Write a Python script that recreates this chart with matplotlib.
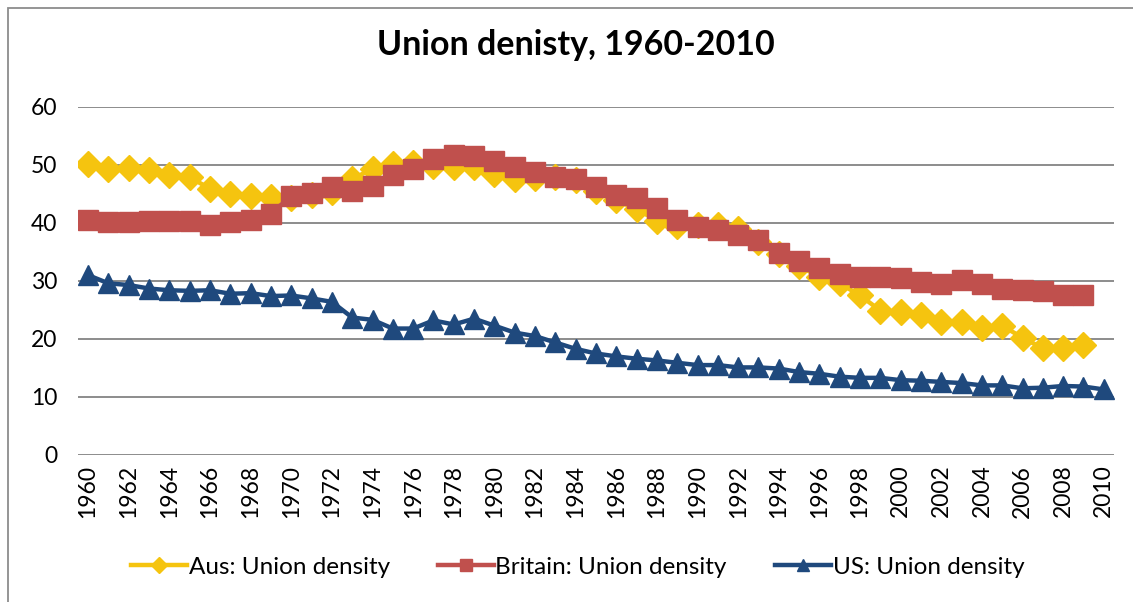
import matplotlib
matplotlib.use('Agg')
import matplotlib.pyplot as plt
from matplotlib.patches import Rectangle

plt.rcParams['font.family'] = ['Lato', 'DejaVu Sans']

years = list(range(1960, 2011))

aus = [50.1, 49.3, 49.5, 49.2, 48.2, 47.9, 45.9, 45.0, 44.7, 44.5,
       44.3, 44.8, 45.3, 47.6, 49.3, 50.1, 50.4, 49.9, 49.7, 49.7,
       48.5, 47.5, 47.7, 47.9, 47.4, 45.5, 43.9, 42.4, 40.4, 39.4,
       39.6, 39.7, 38.9, 36.7, 34.6, 32.6, 30.7, 29.6, 27.5, 24.9,
       24.6, 24.2, 22.9, 23.0, 21.9, 22.3, 20.2, 18.4, 18.4, 19.0]
britain = [40.5, 40.1, 40.1, 40.3, 40.3, 40.3, 39.7, 40.2, 40.5, 41.6,
           44.7, 45.2, 46.2, 45.5, 46.3, 48.2, 49.3, 51.0, 51.8, 51.6,
           50.7, 49.7, 48.8, 48.0, 47.5, 46.2, 44.8, 44.3, 42.5, 40.6,
           39.3, 38.8, 38.0, 37.0, 34.9, 33.4, 32.2, 31.2, 30.7, 30.7,
           30.5, 29.8, 29.4, 30.1, 29.5, 28.6, 28.4, 28.2, 27.6, 27.5]
us = [31.0, 29.6, 29.3, 28.7, 28.4, 28.3, 28.4, 27.8, 27.9, 27.4,
      27.5, 27.0, 26.4, 23.7, 23.3, 21.8, 21.8, 23.2, 22.5, 23.5,
      22.3, 21.1, 20.5, 19.4, 18.3, 17.5, 17.0, 16.6, 16.3, 15.9,
      15.5, 15.5, 15.1, 15.1, 14.9, 14.3, 14.0, 13.5, 13.3, 13.3,
      12.9, 12.8, 12.6, 12.4, 12.0, 12.0, 11.5, 11.6, 11.9, 11.8, 11.3]

fig = plt.figure(figsize=(11.33, 6.02), dpi=100)
ax = fig.add_axes([0.0688, 0.2442, 0.9144, 0.5781])

x = list(range(len(years)))
ax.plot(x[:len(aus)], aus, color='#F5C40F', lw=3.2, marker='D', ms=13,
        label='Aus: Union density')
ax.plot(x[:len(britain)], britain, color='#C0504D', lw=3.2, marker='s', ms=14,
        label='Britain: Union density')
ax.plot(x, us, color='#1F497D', lw=3.2, marker='^', ms=14,
        label='US: Union density')

ax.set_xlim(-0.5, len(years) - 0.5)
ax.set_ylim(0, 60)
ax.set_yticks(range(0, 61, 10))
ax.set_xticks(x[::2])
ax.set_xticklabels([str(y) for y in years[::2]], rotation=90)
ax.tick_params(axis='both', length=0, labelsize=16.5, colors='black')
ax.tick_params(axis='y', pad=15)
ax.tick_params(axis='x', pad=7)
ax.grid(axis='y', color='#8c8c8c', lw=1.4)
ax.set_axisbelow(True)
for s in ax.spines.values():
    s.set_visible(False)

fig.text(0.508, 0.925, 'Union denisty, 1960-2010', ha='center', va='center',
         fontsize=24.5, fontweight='bold')

fig.legend(loc='center', bbox_to_anchor=(0.51, 0.058), ncol=3, frameon=False,
           fontsize=17.5, handlelength=2.3, handletextpad=0.05, columnspacing=2.0,
           markerscale=0.65)

fig.add_artist(Rectangle((8 / 1133, -0.1), 1.2, 1.1 - 8 / 602,
                         transform=fig.transFigure, fill=False,
                         edgecolor='#8c8c8c', lw=1.3))

fig.savefig('out.png', dpi=100)
